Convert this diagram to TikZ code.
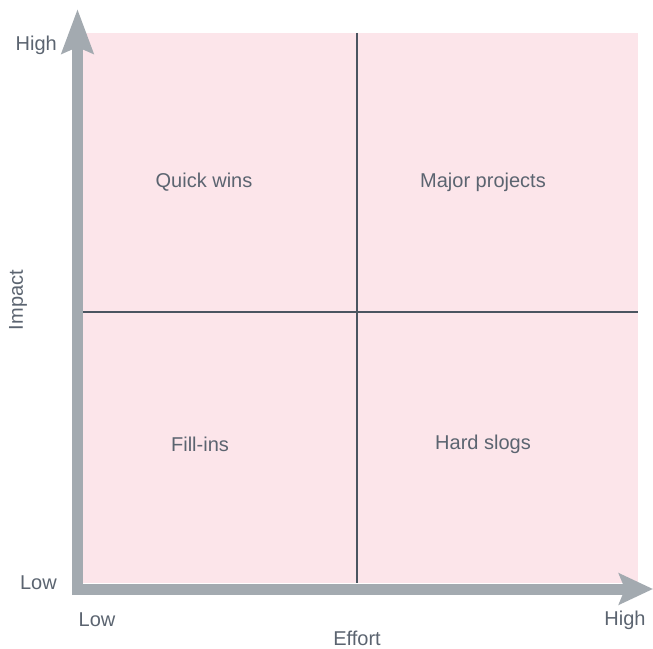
\documentclass[tikz,border=0pt]{standalone}
\usepackage{fontspec}
\setmainfont{Liberation Sans}
\usepackage{tikz}
\usetikzlibrary{arrows.meta}

\definecolor{quadpink}{HTML}{FCE5EA}
\definecolor{axisgray}{HTML}{A3AAB0}
\definecolor{gridline}{HTML}{4B5560}
\definecolor{labelgray}{HTML}{5B6470}

\tikzset{
  axisbar/.style={line width=11pt, axisgray, line cap=butt},
  label/.style={text=labelgray, font=\fontsize{20}{24}\selectfont, inner sep=0pt},
}

\begin{document}
\begin{tikzpicture}[x=1pt,y=1pt]
    \useasboundingbox (0,0) rectangle (653,648);
    \coordinate (SW) at (82,65); % Lower left corner of grid
    \coordinate (NE) at (638,615); % Upper right corner of grid
    \coordinate (T) at (357,615); % Top of middle line
    \coordinate (B) at (357,65); % Bottom of middle line
    \coordinate (L) at (82,336); % Left of middle line
    \coordinate (R) at (638,336); % Right of middle line
    \coordinate (O) at (77.5,53); % Start of vertical axis
    \coordinate (Y) at (77.5,639); % Tip of vertical axis
    \coordinate (P) at (72,59); % Start of horizontal axis
    \coordinate (X) at (653,59); % Tip of horizontal axis
    \fill[quadpink] (SW) rectangle (NE);
    \draw[gridline, line width=2pt] (T) -- (B);
    \draw[gridline, line width=2pt] (L) -- (R);
    \draw[axisbar, -{Stealth[length=44pt, width=31pt, inset=6pt]}] (O) -- (Y);
    \draw[axisbar, -{Stealth[length=34pt, width=31pt, inset=6pt]}] (P) -- (X);
    \node[label, anchor=east] (yhigh) at (57,603) {High};
    \node[label, anchor=east] (ylow) at (57,65) {Low};
    \node[label] (xlow) at (97,28) {Low};
    \node[label] (xhigh) at (625,28) {High};
    \node[label] (effort) at (357,10) {Effort};
    \node[label, rotate=90] (impact) at (18,348) {Impact};
    \node[label] (quick) at (204,466) {Quick wins};
    \node[label] (major) at (483,466) {Major projects};
    \node[label] (fill) at (200,204) {Fill-ins};
    \node[label] (hard) at (483,204) {Hard slogs};
\end{tikzpicture}
\end{document}
